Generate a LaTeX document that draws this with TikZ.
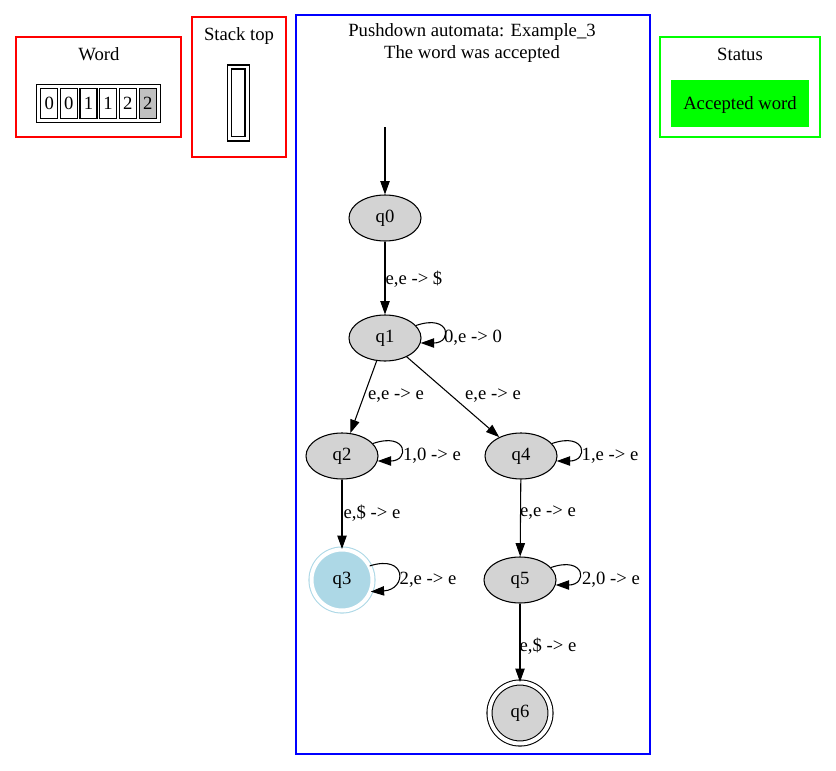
\documentclass[tikz,border=0pt]{standalone}
\usepackage{fontspec}
\setmainfont{Liberation Serif}
\usetikzlibrary{arrows.meta,shapes.geometric}
\definecolor{stategray}{HTML}{D3D3D3}
\definecolor{lblue}{HTML}{ADD8E6}
\definecolor{cellgray}{HTML}{C0C0C0}
\definecolor{boxred}{HTML}{FF0000}
\definecolor{boxblue}{HTML}{0000FF}
\definecolor{boxgreen}{HTML}{00FF00}
\begin{document}
\begin{tikzpicture}[x=0.75pt,y=-0.75pt,
  every node/.style={font=\fontsize{14}{16.5}\selectfont},
  state/.style={ellipse,draw,fill=stategray,line width=0.8pt,minimum width=54pt,minimum height=34.5pt,inner sep=0pt},
  accstate/.style={circle,draw,fill=stategray,line width=0.8pt,double,double distance=3pt,minimum size=45.75pt,inner sep=0pt},
  bluestate/.style={circle,draw=lblue,fill=lblue,line width=0.8pt,double,double distance=3pt,minimum size=45.75pt,inner sep=0pt},
  arr/.style={-{Triangle[length=10pt,width=7pt]},line width=0.8pt},
  lbl/.style={inner sep=0pt},
  frame/.style={line width=0.9pt},
  cell/.style={draw,line width=0.8pt,minimum width=12.75pt,minimum height=22.5pt,inner sep=0pt}]
\useasboundingbox (0,0) rectangle (836,771);

% Word box
\draw[frame,boxred] (16,37) rectangle (181,137);
\node (wordtitle) at (99,54) {Word};
\draw[line width=0.8pt] (36.7,84.3) rectangle (160.3,122.3);
\node[cell] (c1) at (49.3,103.3) {0};
\node[cell] (c2) at (68.9,103.3) {0};
\node[cell] (c3) at (88.5,103.3) {1};
\node[cell] (c4) at (108.1,103.3) {1};
\node[cell] (c5) at (127.7,103.3) {2};
\node[cell,fill=cellgray] (c6) at (147.7,103.3) {2};

% Stack top box
\draw[frame,boxred] (192,17) rectangle (286,157);
\node (stacktitle) at (239,36) {Stack top};
\draw[line width=0.8pt] (227.3,65) rectangle (249.3,141);
\draw[line width=0.8pt] (231.3,69) rectangle (245,136.7);

% Status box
\draw[frame,boxgreen] (660,37) rectangle (820,137);
\node (statustitle) at (740,54) {Status};
\fill[boxgreen] (671,80) rectangle (809,127);
\node (status) at (740,105) {Accepted word};

% Main box
\draw[frame,boxblue] (296,15) rectangle (650,754);
\node[align=center] (title) at (472,43) {Pushdown automata: Example\_3\\The word was accepted};

% States
\coordinate (start) at (385,127);
\node[state] (q0) at (385,218) {q0};
\node[state] (q1) at (385,338) {q1};
\node[state] (q2) at (342,456) {q2};
\node[state] (q4) at (521,456) {q4};
\node[bluestate] (q3) at (342,580) {q3};
\node[state] (q5) at (520,580) {q5};
\node[accstate] (q6) at (520,713) {q6};

% Edges
\draw[arr] (start) -- (q0);
\draw[arr] (q0) -- (q1);
\draw[arr] (q1) -- (q2);
\draw[arr] (q1) -- (q4);
\draw[arr] (q2) -- (q3);
\draw[arr] (q4) -- (q5);
\draw[arr] (q5) -- (q6);

% Loops
\draw[arr] (q1.22) .. controls +(35,-12) and +(32,0) .. (q1.-8);
\draw[arr] (q2.22) .. controls +(35,-12) and +(32,0) .. (q2.-8);
\draw[arr] (q4.22) .. controls +(35,-12) and +(32,0) .. (q4.-8);
\draw[arr] (q5.22) .. controls +(35,-12) and +(32,0) .. (q5.-8);
\draw[arr] (q3.27) .. controls +(38,-12) and +(36,-2) .. (q3.-22);

% Labels
\node[lbl] (l01) at (414,279) {e,e -> \$};
\node[lbl] (l11) at (473,338) {0,e -> 0};
\node[lbl] (l12) at (396,396) {e,e -> e};
\node[lbl] (l14) at (493,396) {e,e -> e};
\node[lbl] (l22) at (432,456) {1,0 -> e};
\node[lbl] (l44) at (610,456) {1,e -> e};
\node[lbl] (l23) at (372,513) {e,\$ -> e};
\node[lbl] (l45) at (548,513) {e,e -> e};
\node[lbl] (l33) at (428,580) {2,e -> e};
\node[lbl] (l55) at (611,580) {2,0 -> e};
\node[lbl] (l56) at (548,646) {e,\$ -> e};
\end{tikzpicture}
\end{document}
